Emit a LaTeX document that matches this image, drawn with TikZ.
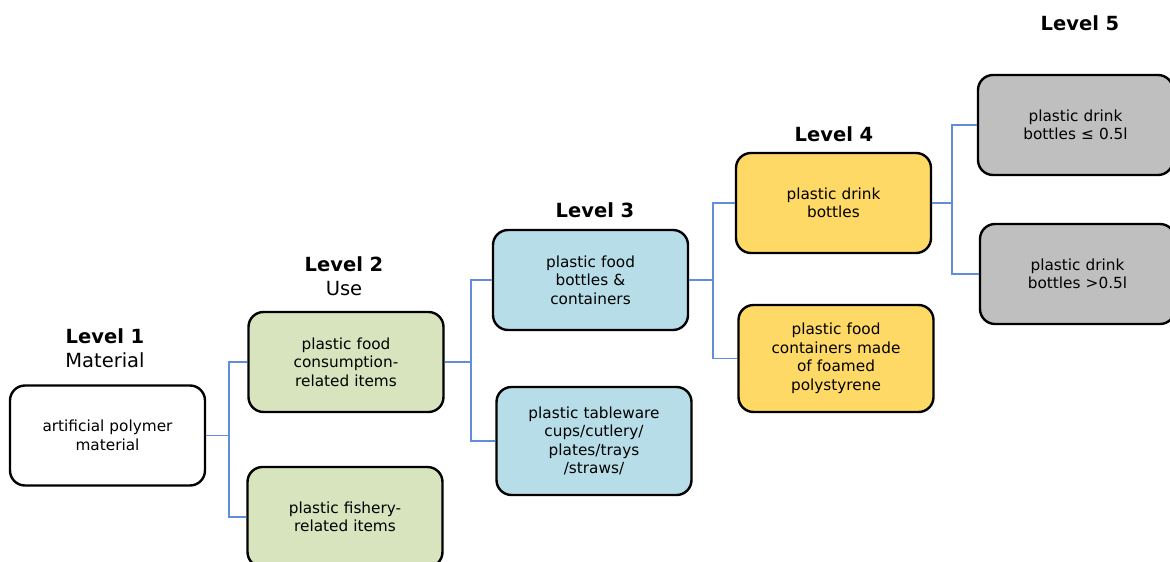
\documentclass[tikz,border=0pt]{standalone}
\usepackage{fontspec}
\setmainfont{DejaVu Sans}
\usepackage{tikz}

\definecolor{matfill}{RGB}{255,255,255}
\definecolor{usefill}{RGB}{215,228,189}
\definecolor{catfill}{RGB}{183,222,232}
\definecolor{subfill}{RGB}{255,217,102}
\definecolor{typfill}{RGB}{191,191,191}
\definecolor{linkblue}{RGB}{98,141,218}

\begin{document}
\begin{tikzpicture}[x=1pt, y=-1pt,
        box/.style = {draw, line width=2.4pt, rounded corners=15pt, minimum width=195pt, minimum height=100pt, text width=185pt, align=center, font=\fontsize{15.3}{18.5}\selectfont},
        level/.style = {align=center, font=\fontsize{19.5}{24.5}\selectfont},
        link/.style = {draw=linkblue, line width=1.8pt}]
        \useasboundingbox[fill=white] (0,0) rectangle (1170,562);
        %% Levels
        \node[level] (h1) at (105,348) {\textbf{Level 1}\\Material};
        \node[level] (h2) at (344,276) {\textbf{Level 2}\\Use};
        \node[level] (h3) at (595,210) {\textbf{Level 3}};
        \node[level] (h4) at (834,134) {\textbf{Level 4}};
        \node[level] (h5) at (1080,23) {\textbf{Level 5}};
        %% Boxes
        \node[box, fill=matfill] (mat) at (107.5,435.5) {artificial polymer\\material};
        \node[box, fill=usefill] (food) at (346,362) {plastic food\\consumption-\\related items};
        \node[box, fill=usefill] (fish) at (345,517) {plastic fishery-\\related items};
        \node[box, fill=catfill] (cont) at (590.5,280) {plastic food\\bottles \&\\containers};
        \node[box, fill=catfill, minimum height=108pt] (ware) at (594,441) {plastic tableware\\cups/cutlery/\\plates/trays\\/straws/};
        \node[box, fill=subfill] (drink) at (833.5,203) {plastic drink\\bottles};
        \node[box, fill=subfill, minimum height=107pt] (foam) at (836,358.5) {plastic food\\containers made\\of foamed\\polystyrene};
        \node[box, fill=typfill] (small) at (1075.5,125) {plastic drink\\bottles ≤ 0.5l};
        \node[box, fill=typfill] (large) at (1077.5,274) {plastic drink\\bottles >0.5l};
        %% Connectors
        \draw[link] (mat.east) -- ++(23,0) coordinate (j1) |- (food.west);
        \draw[link] (j1) |- (fish.west);
        \draw[link] (food.east) -- ++(26,0) coordinate (j2) |- (cont.west);
        \draw[link] (j2) |- (ware.west);
        \draw[link] (cont.east) -- ++(24,0) coordinate (j3) |- (drink.west);
        \draw[link] (j3) |- (foam.west);
        \draw[link] (drink.east) -- ++(20,0) coordinate (j4) |- (small.west);
        \draw[link] (j4) |- (large.west);
    \end{tikzpicture}
\end{document}
